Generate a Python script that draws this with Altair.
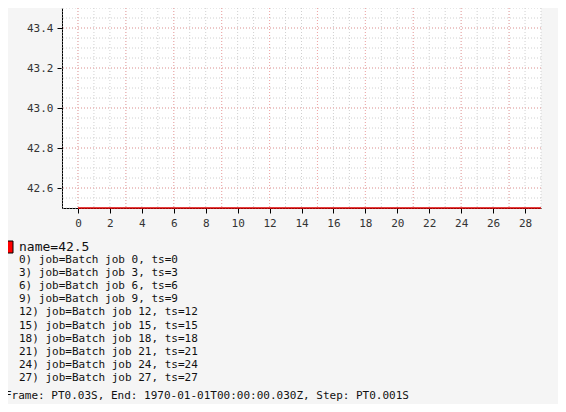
import altair as alt
import pandas as pd

# series: ts 0..29, every value 42.5
ts = list(range(30))
values = [42.5] * 30
series_name = "name=42.5"
jobs = [0, 3, 6, 9, 12, 15, 18, 21, 24, 27]
footer = "Frame: PT0.03S, End: 1970-01-01T00:00:00.030Z, Step: PT0.001S"

x_ticks = list(range(0, 30, 3))
y_ticks = [42.6, 42.8, 43.0, 43.2, 43.4]
x_minor = list(range(-1, 30))
y_minor = [round(42.5 + 0.05 * i, 2) for i in range(21)]

FONT = "DejaVu Sans Mono"
W, H = 479, 200

xs = alt.Scale(domain=[-1, 29], nice=False, zero=False)
ys = alt.Scale(domain=[42.5, 43.5], nice=False, zero=False)

minor_x = alt.Chart(pd.DataFrame({"x": x_minor})).mark_rule(
    color="#d0d0d0", strokeDash=[1, 2], strokeWidth=1
).encode(x=alt.X("x:Q", scale=xs))
minor_y = alt.Chart(pd.DataFrame({"y": y_minor})).mark_rule(
    color="#d0d0d0", strokeDash=[1, 2], strokeWidth=1
).encode(y=alt.Y("y:Q", scale=ys))
major_x = alt.Chart(pd.DataFrame({"x": x_ticks})).mark_rule(
    color="#f2a6a6", strokeDash=[1, 2], strokeWidth=1
).encode(x=alt.X("x:Q", scale=xs))
major_y = alt.Chart(pd.DataFrame({"y": y_ticks})).mark_rule(
    color="#f2a6a6", strokeDash=[1, 2], strokeWidth=1
).encode(y=alt.Y("y:Q", scale=ys))

line = alt.Chart(pd.DataFrame({"ts": ts, "v": values})).mark_line(
    color="#e00000", strokeWidth=1.5
).encode(x=alt.X("ts:Q", scale=xs), y=alt.Y("v:Q", scale=ys))

swatch = alt.Chart(pd.DataFrame({"n": [series_name]})).mark_rect(
    color="#ff0000", stroke="#000", strokeWidth=1
).encode(x=alt.value(-60), x2=alt.value(-49), y=alt.value(233), y2=alt.value(245))
name_text = alt.Chart(pd.DataFrame({"n": [series_name]})).mark_text(
    font=FONT, fontSize=13, align="left", baseline="middle", color="#111"
).encode(text="n:N", x=alt.value(-43), y=alt.value(239))

job_lines = "\n".join(f"{j}) job=Batch job {j}, ts={j}" for j in jobs)
job_text = alt.Chart(pd.DataFrame({"t": [job_lines]})).mark_text(
    font=FONT, fontSize=11, align="left", baseline="top", color="#111",
    lineBreak="\n", lineHeight=13.1,
).encode(text="t:N", x=alt.value(-43), y=alt.value(246))
foot = alt.Chart(pd.DataFrame({"f": [footer]})).mark_text(
    font=FONT, fontSize=11, align="left", baseline="middle", color="#111"
).encode(text="f:N", x=alt.value(-57), y=alt.value(388))

chart = alt.layer(
    minor_x, minor_y, major_x, major_y, line, swatch, name_text, job_text, foot
).properties(
    width=W, height=H,
    autosize=alt.AutoSizeParams(type="none"),
    padding={"left": 54, "top": 0, "right": 17, "bottom": 196},
    background="#f5f5f5",
).configure_view(fill="white", stroke=None).configure_axis(
    title=None, grid=False, domainColor="#000", tickColor="#000",
    labelFont=FONT, labelFontSize=11, labelColor="#333", labelPadding=4,
).configure_axisX(values=x_ticks).configure_axisY(values=y_ticks, format=".1f")

chart.save("out.html", embed_options={"renderer": "svg", "actions": False})
